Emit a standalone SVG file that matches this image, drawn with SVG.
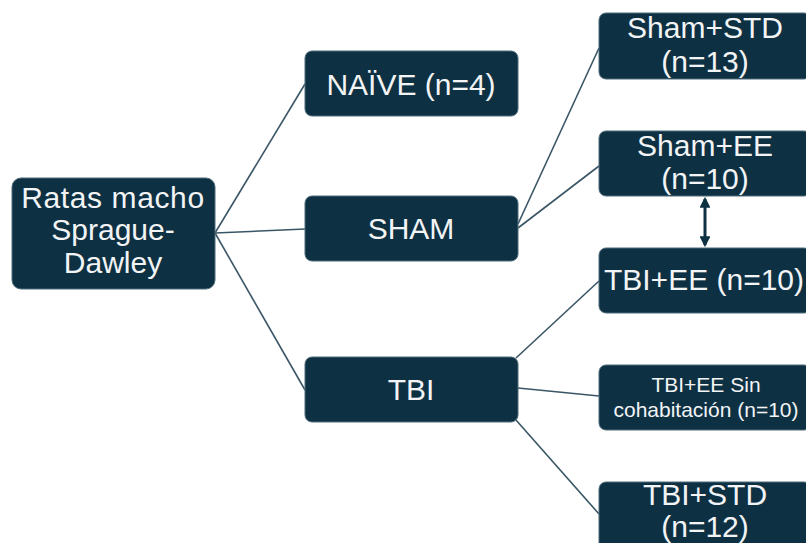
<svg xmlns="http://www.w3.org/2000/svg" width="806" height="543" viewBox="0 0 806 543">
  <defs>
    <style>
      .box { fill: #0e3043; stroke: #4f6b7a; stroke-width: 1; }
      .lbl { fill: #f2f4f5; font-family: "Liberation Sans", Arial, sans-serif; font-size: 30px; text-anchor: middle; }
      .sm { font-size: 21px; }
      .link { stroke: #3a5666; stroke-width: 1.6; fill: none; }
      .dbl { stroke: #0e3043; stroke-width: 3; fill: none; }
    </style>
    <marker id="head" viewBox="0 0 10 10" refX="8" refY="5" markerWidth="3.6" markerHeight="3.6" orient="auto-start-reverse">
      <path d="M0,0 L10,5 L0,10 z" fill="#0e3043"/>
    </marker>
  </defs>
  <rect width="806" height="543" fill="#ffffff"/>

  <!-- connectors -->
  <g id="connectors">
    <line class="link" x1="215" y1="233" x2="305" y2="84"/>
    <line class="link" x1="215" y1="233" x2="305" y2="229"/>
    <line class="link" x1="215" y1="233" x2="305" y2="390"/>
    <line class="link" x1="518" y1="224" x2="599" y2="48"/>
    <line class="link" x1="518" y1="228" x2="599" y2="166"/>
    <line class="link" x1="516" y1="358" x2="599" y2="281"/>
    <line class="link" x1="518" y1="388" x2="599" y2="396"/>
    <line class="link" x1="516" y1="420" x2="599" y2="514"/>
    <line class="dbl" x1="705" y1="199" x2="705" y2="245" marker-start="url(#head)" marker-end="url(#head)"/>
  </g>

  <!-- root -->
  <g id="root">
    <rect class="box" x="12" y="178" width="203" height="111" rx="9"/>
    <text class="lbl" x="113" y="208" letter-spacing="0.6">Ratas macho</text>
    <text class="lbl" x="113" y="240">Sprague-</text>
    <text class="lbl" x="113" y="273">Dawley</text>
  </g>

  <!-- first level -->
  <g id="naive">
    <rect class="box" x="305" y="51" width="213" height="65" rx="7"/>
    <text class="lbl" x="411" y="95">NAÏVE (n=4)</text>
  </g>
  <g id="sham">
    <rect class="box" x="305" y="196" width="213" height="65" rx="7"/>
    <text class="lbl" x="411" y="239">SHAM</text>
  </g>
  <g id="tbi">
    <rect class="box" x="305" y="357" width="213" height="65" rx="7"/>
    <text class="lbl" x="411" y="400">TBI</text>
  </g>

  <!-- second level -->
  <g id="sham-std">
    <rect class="box" x="599" y="13" width="212" height="66" rx="7"/>
    <text class="lbl" x="705" y="38">Sham+STD</text>
    <text class="lbl" x="705" y="72">(n=13)</text>
  </g>
  <g id="sham-ee">
    <rect class="box" x="599" y="131" width="212" height="65" rx="7"/>
    <text class="lbl" x="705" y="156">Sham+EE</text>
    <text class="lbl" x="705" y="189">(n=10)</text>
  </g>
  <g id="tbi-ee">
    <rect class="box" x="599" y="248" width="212" height="65" rx="7"/>
    <text class="lbl" x="704" y="290">TBI+EE (n=10)</text>
  </g>
  <g id="tbi-ee-sin">
    <rect class="box" x="599" y="365" width="212" height="65" rx="7"/>
    <text class="lbl sm" x="706" y="392">TBI+EE Sin</text>
    <text class="lbl sm" x="706" y="417">cohabitación (n=10)</text>
  </g>
  <g id="tbi-std">
    <rect class="box" x="599" y="482" width="212" height="70" rx="7"/>
    <text class="lbl" x="705" y="505">TBI+STD</text>
    <text class="lbl" x="705" y="537">(n=12)</text>
  </g>
</svg>
